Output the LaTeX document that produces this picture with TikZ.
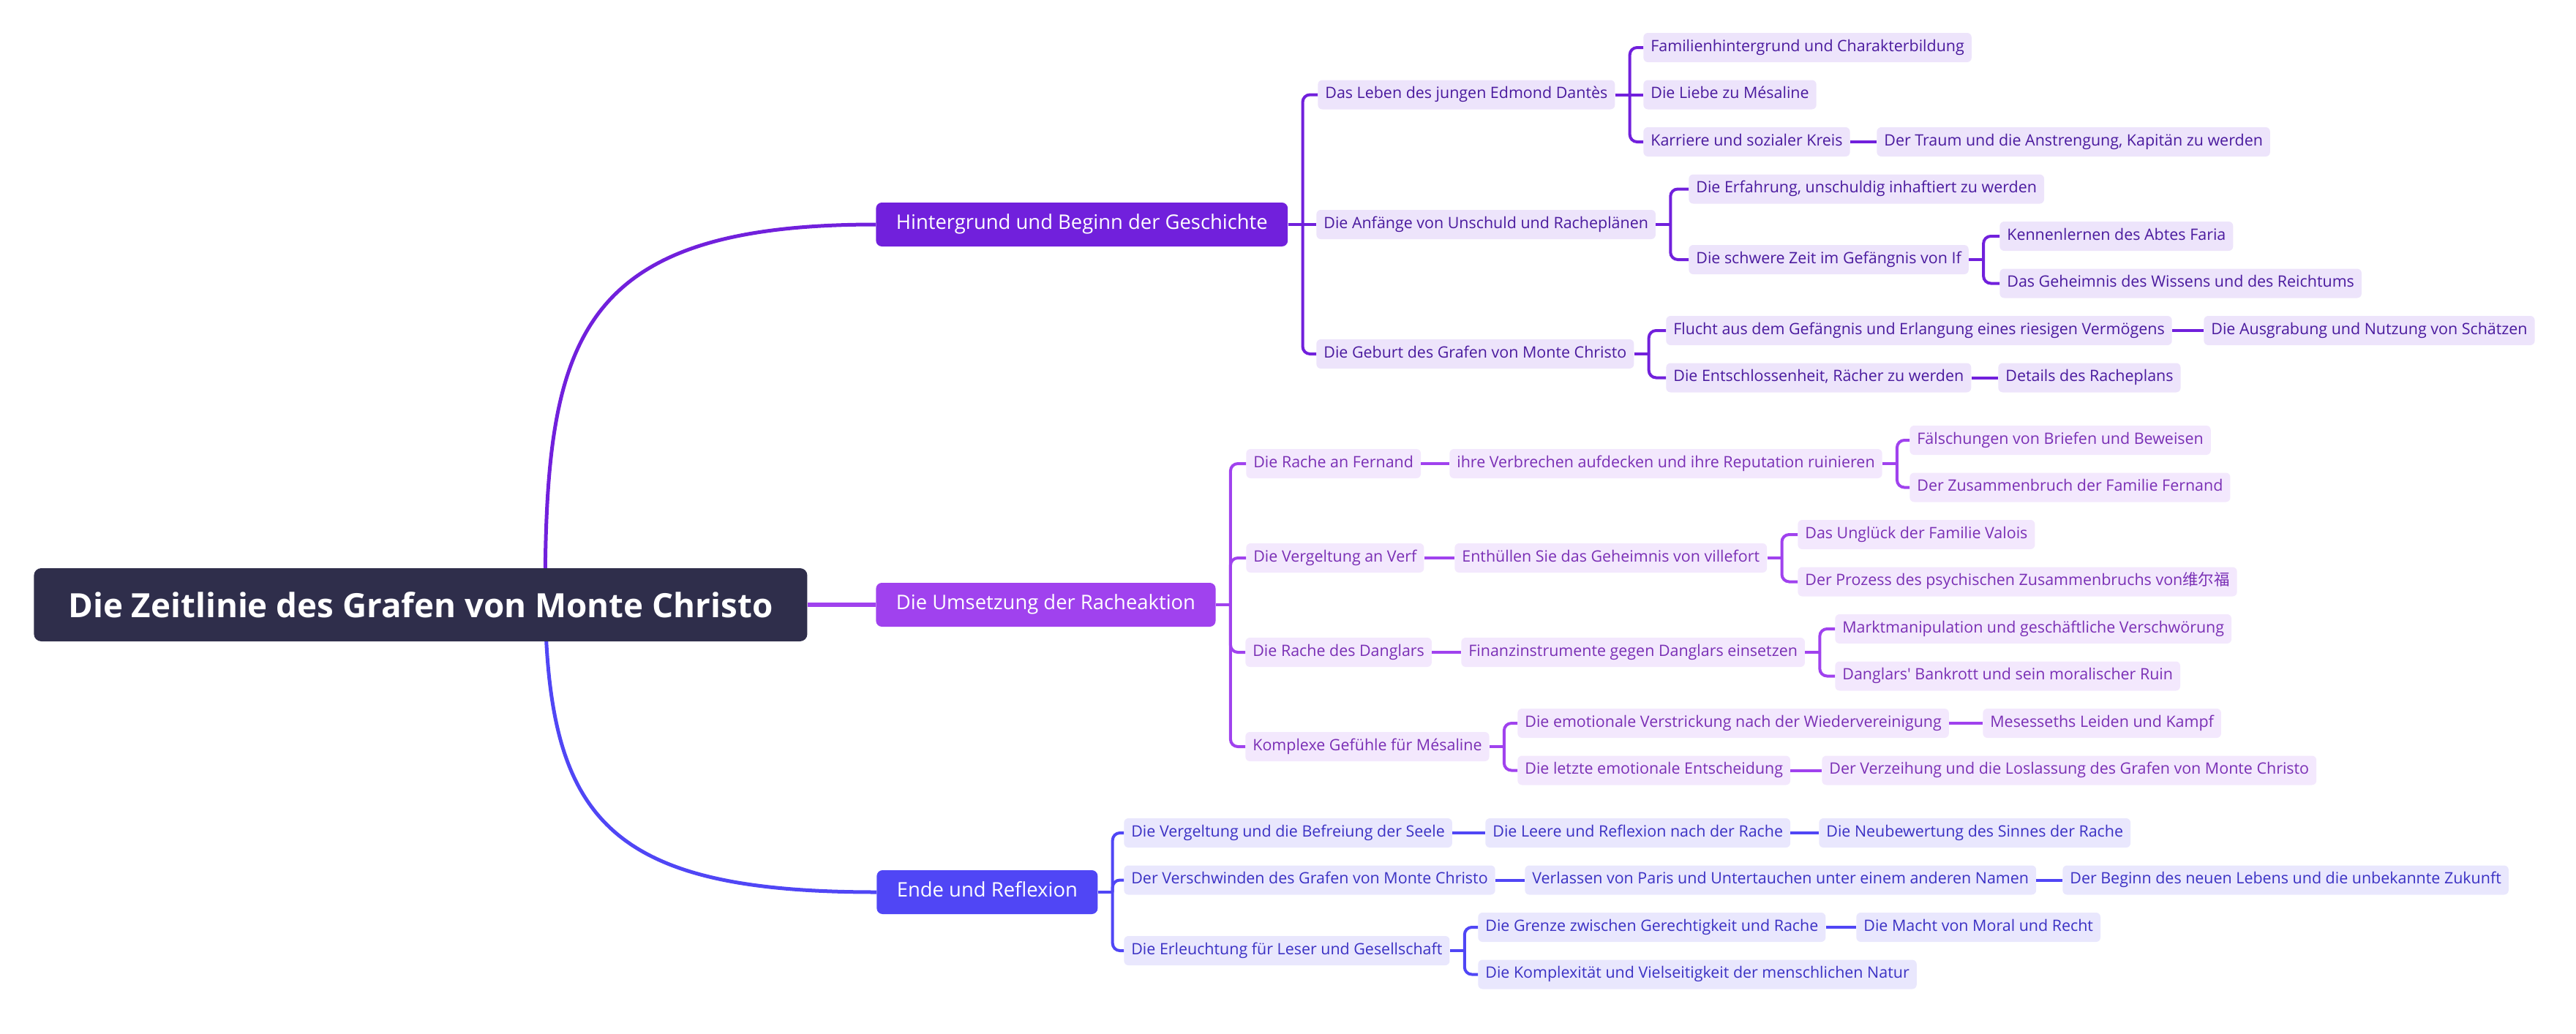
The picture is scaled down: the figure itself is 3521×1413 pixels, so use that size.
\documentclass[tikz,border=0pt]{standalone}
\usepackage{fontspec}
\setmainfont{Open Sans}
\newfontfamily\txtfont{Open Sans}
\newfontfamily\cjk{Noto Sans CJK SC}
\usetikzlibrary{calc}

\definecolor{rootcol}{HTML}{2F2E4B}
\definecolor{hcol}{HTML}{7120DC}
\definecolor{ucol}{HTML}{A042EE}
\definecolor{ecol}{HTML}{5046F5}
\definecolor{hfill}{HTML}{EDE4FB}
\definecolor{ufill}{HTML}{F3E8FD}
\definecolor{efill}{HTML}{E9E7FD}
\definecolor{htext}{HTML}{4A1A9E}
\definecolor{utext}{HTML}{7A2FB5}
\definecolor{etext}{HTML}{3B31C4}

\tikzset{
  box/.style={anchor=west, rounded corners=1.2mm, minimum height=8mm, inner xsep=2mm, inner ysep=0pt,
    text height=2.9mm, text depth=0.9mm, font=\txtfont\fontsize{12.2}{14}\selectfont},
  hbox/.style={box, fill=hfill, text=htext},
  ubox/.style={box, fill=ufill, text=utext},
  ebox/.style={box, fill=efill, text=etext},
  topic/.style={anchor=west, rounded corners=1.6mm, minimum height=12mm, inner xsep=5.5mm, inner ysep=0pt,
    text height=3.8mm, text depth=1.2mm, text=white, font=\fontsize{15.6}{18}\selectfont},
  hlink/.style={draw=hcol, line width=0.8mm},
  ulink/.style={draw=ucol, line width=0.8mm},
  elink/.style={draw=ecol, line width=0.8mm}
}

\begin{document}
\begin{tikzpicture}[x=0.2mm, y=-0.2mm]
\useasboundingbox (0,0) rectangle (3521,1413);

% main topics
\node[topic, fill=hcol] (H) at (1197,307) {Hintergrund und Beginn der Geschichte};
\node[topic, fill=ucol] (U) at (1197,827) {Die Umsetzung der Racheaktion};
\node[topic, fill=ecol] (E) at (1198,1220) {Ende und Reflexion};

\coordinate (rs) at (745,827);
\draw[hcol, line width=1mm] (rs) .. controls (745,470) and (780,307) .. (H.west);
\draw[ecol, line width=1mm] (rs) .. controls (750,1120) and (830,1220) .. (E.west);

\node[anchor=west, fill=rootcol, text=white, rounded corners=2mm, minimum height=20mm, inner xsep=9.4mm,
  font=\bfseries\fontsize{26}{30}\selectfont] (root) at (46,827) {Die Zeitlinie des Grafen von Monte Christo};
\draw[ucol, line width=1.1mm] (root.east) -- (U.west);

% Hintergrund und Beginn
\node[hbox] (leben) at (1801,129.5) {Das Leben des jungen Edmond Dantès};
\node[hbox] (anfang) at (1799,307) {Die Anfänge von Unschuld und Racheplänen};
\node[hbox] (geburt) at (1799,484) {Die Geburt des Grafen von Monte Christo};
\node[hbox] (famil) at (2246,65) {Familienhintergrund und Charakterbildung};
\node[hbox] (liebe) at (2246,129.5) {Die Liebe zu Mésaline};
\node[hbox] (karr) at (2246,194) {Karriere und sozialer Kreis};
\node[hbox] (traum) at (2565,194) {Der Traum und die Anstrengung, Kapitän zu werden};
\node[hbox] (erfahr) at (2308,258.5) {Die Erfahrung, unschuldig inhaftiert zu werden};
\node[hbox] (zeit) at (2308,355) {Die schwere Zeit im Gefängnis von If};
\node[hbox] (faria) at (2733,323) {Kennenlernen des Abtes Faria};
\node[hbox] (geheim) at (2733,387.5) {Das Geheimnis des Wissens und des Reichtums};
\node[hbox] (flucht) at (2277,452) {Flucht aus dem Gefängnis und Erlangung eines riesigen Vermögens};
\node[hbox] (schatz) at (3012,452) {Die Ausgrabung und Nutzung von Schätzen};
\node[hbox] (entschl) at (2277,516.5) {Die Entschlossenheit, Rächer zu werden};
\node[hbox] (details) at (2731,516.5) {Details des Racheplans};

\foreach \p/\c in {H/anfang,leben/liebe,karr/traum,flucht/schatz,entschl/details}
  \draw[hlink] (\p.east) -- (\c.west);
\foreach \p/\c in {H/leben,H/geburt,leben/famil,leben/karr,
  anfang/erfahr,anfang/zeit,zeit/faria,zeit/geheim,geburt/flucht,geburt/entschl}{
  \draw[hlink] (\p.east) -- ++(20,0);
  \draw[hlink, rounded corners=2mm] ($(\p.east)+(20,0)$) |- (\c.west);
}

% Umsetzung der Racheaktion
\node[ubox] (fernand) at (1703,634) {Die Rache an Fernand};
\node[ubox] (verbr) at (1981,634) {ihre Verbrechen aufdecken und ihre Reputation ruinieren};
\node[ubox] (faelsch) at (2610,602) {Fälschungen von Briefen und Beweisen};
\node[ubox] (zusamm) at (2610,666.5) {Der Zusammenbruch der Familie Fernand};
\node[ubox] (verf) at (1703,763) {Die Vergeltung an Verf};
\node[ubox] (enth) at (1988,763) {Enthüllen Sie das Geheimnis von villefort};
\node[ubox] (valois) at (2457,731) {Das Unglück der Familie Valois};
\node[ubox] (prozess) at (2457,795.5) {Der Prozess des psychischen Zusammenbruchs von{\cjk 维尔福}};
\node[ubox] (dangl) at (1702,892) {Die Rache des Danglars};
\node[ubox] (finanz) at (1997,892) {Finanzinstrumente gegen Danglars einsetzen};
\node[ubox] (markt) at (2508,860) {Marktmanipulation und geschäftliche Verschwörung};
\node[ubox] (bankr) at (2508,924.5) {Danglars' Bankrott und sein moralischer Ruin};
\node[ubox] (kompl) at (1702,1021) {Komplexe Gefühle für Mésaline};
\node[ubox] (verstr) at (2074,989) {Die emotionale Verstrickung nach der Wiedervereinigung};
\node[ubox] (meses) at (2710,989) {Mesesseths Leiden und Kampf};
\node[ubox] (letzte) at (2074,1053.5) {Die letzte emotionale Entscheidung};
\node[ubox] (verz) at (2490,1053.5) {Der Verzeihung und die Loslassung des Grafen von Monte Christo};

\foreach \p/\c in {fernand/verbr,verf/enth,dangl/finanz,verstr/meses,letzte/verz}
  \draw[ulink] (\p.east) -- (\c.west);
\foreach \p/\c in {U/fernand,U/verf,U/dangl,U/kompl,verbr/faelsch,verbr/zusamm,
  enth/valois,enth/prozess,finanz/markt,finanz/bankr,kompl/verstr,kompl/letzte}{
  \draw[ulink] (\p.east) -- ++(20,0);
  \draw[ulink, rounded corners=2mm] ($(\p.east)+(20,0)$) |- (\c.west);
}

% Ende und Reflexion
\node[ebox] (befr) at (1536,1139) {Die Vergeltung und die Befreiung der Seele};
\node[ebox] (leere) at (2030,1139) {Die Leere und Reflexion nach der Rache};
\node[ebox] (neub) at (2486,1139) {Die Neubewertung des Sinnes der Rache};
\node[ebox] (versch) at (1536,1203.5) {Der Verschwinden des Grafen von Monte Christo};
\node[ebox] (verl) at (2084,1203.5) {Verlassen von Paris und Untertauchen unter einem anderen Namen};
\node[ebox] (beginn) at (2819,1203.5) {Der Beginn des neuen Lebens und die unbekannte Zukunft};
\node[ebox] (erleu) at (1536,1300) {Die Erleuchtung für Leser und Gesellschaft};
\node[ebox] (grenze) at (2020,1268) {Die Grenze zwischen Gerechtigkeit und Rache};
\node[ebox] (macht) at (2537,1268) {Die Macht von Moral und Recht};
\node[ebox] (kompx) at (2020,1332.5) {Die Komplexität und Vielseitigkeit der menschlichen Natur};

\foreach \p/\c in {befr/leere,leere/neub,versch/verl,verl/beginn,grenze/macht}
  \draw[elink] (\p.east) -- (\c.west);
\foreach \p/\c in {E/befr,E/versch,E/erleu,erleu/grenze,erleu/kompx}{
  \draw[elink] (\p.east) -- ++(20,0);
  \draw[elink, rounded corners=2mm] ($(\p.east)+(20,0)$) |- (\c.west);
}
\end{tikzpicture}
\end{document}
